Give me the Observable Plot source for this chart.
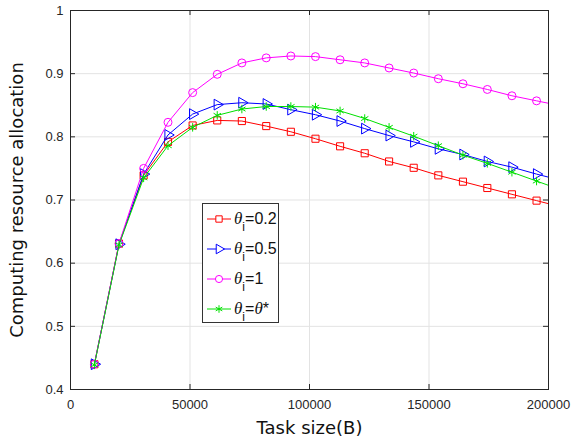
<!DOCTYPE html>
<html>
<head>
<meta charset="utf-8">
<script src="https://cdn.jsdelivr.net/npm/d3@7"></script>
<script src="https://cdn.jsdelivr.net/npm/@observablehq/plot@0.6"></script>
<style>
  body { margin: 0; background: #fff; }
  #wrap { position: relative; width: 573px; height: 445px; }
  #legend { position: absolute; left: 202px; top: 203px; width: 77px; height: 120px;
    border: 1px solid #333; background: #fff; box-sizing: border-box; }
  .item { position: absolute; left: 3px; height: 28px; display: flex; align-items: center; }
  .lab { font-family: "Liberation Sans", Arial, sans-serif; font-size: 16px; color: #111; margin-left: 2px; white-space: nowrap; }
  .th { font-family: "Liberation Serif", "Times New Roman", serif; font-style: italic; font-size: 17px; }
  .sub { font-family: "Liberation Sans", Arial, sans-serif; font-size: 12px; position: relative; top: 7px; }
</style>
</head>
<body>
<div id="wrap"></div>
<script>
const taskSize = [10000, 20300, 30600, 40800, 51100, 61400, 71700, 81900, 92200, 102500, 112800, 123100, 133300, 143600, 153900, 164200, 174400, 184700, 195000, 205300];
const theta02 = [0.440, 0.631, 0.739, 0.792, 0.818, 0.826, 0.825, 0.817, 0.808, 0.797, 0.785, 0.774, 0.761, 0.751, 0.739, 0.729, 0.719, 0.709, 0.699, 0.689];
const theta05 = [0.440, 0.630, 0.741, 0.803, 0.836, 0.851, 0.854, 0.852, 0.843, 0.835, 0.825, 0.813, 0.802, 0.792, 0.781, 0.772, 0.761, 0.752, 0.741, 0.731];
const theta1 = [0.440, 0.631, 0.750, 0.823, 0.870, 0.899, 0.917, 0.925, 0.928, 0.927, 0.922, 0.917, 0.909, 0.901, 0.892, 0.884, 0.875, 0.865, 0.857, 0.849];
const thetaStar = [0.439, 0.629, 0.735, 0.786, 0.815, 0.834, 0.844, 0.848, 0.848, 0.847, 0.841, 0.829, 0.815, 0.801, 0.786, 0.771, 0.758, 0.744, 0.730, 0.716];
const xTicks = [0, 50000, 100000, 150000, 200000];
const yTicks = [0.4, 0.5, 0.6, 0.7, 0.8, 0.9, 1];
const xLabel = "Task size(B)";
const yLabel = "Computing resource allocation";

const series = [
  {name: "0.2", values: theta02, color: "#ff0000", symbol: "square", rotate: 0},
  {name: "0.5", values: theta05, color: "#0000ff", symbol: "triangle", rotate: 90},
  {name: "1", values: theta1, color: "#ff00ff", symbol: "circle", rotate: 0},
  {name: "*", values: thetaStar, color: "#00e000", symbol: "asterisk", rotate: 0}
];

const marks = [];
marks.push(Plot.gridX(xTicks, {stroke: "#e3e3e3", strokeOpacity: 1}));
marks.push(Plot.gridY(yTicks, {stroke: "#e3e3e3", strokeOpacity: 1}));
for (const s of series) {
  const data = taskSize.map((x, i) => ({x, y: s.values[i]}));
  marks.push(Plot.line(data, {x: "x", y: "y", stroke: s.color, strokeWidth: 1, clip: true}));
  marks.push(Plot.dot(data.filter(d => d.x <= 200000), {x: "x", y: "y", stroke: s.color, fill: "none",
    symbol: s.symbol, r: 4, rotate: s.rotate, strokeWidth: 1}));
}
marks.push(Plot.frame({stroke: "#262626", strokeWidth: 1}));
// inward ticks
marks.push(Plot.tickX(xTicks, {x: d => d, insetTop: 374, stroke: "#262626"}));
marks.push(Plot.tickX(xTicks, {x: d => d, insetBottom: 374, stroke: "#262626"}));
marks.push(Plot.tickY(yTicks, {y: d => d, insetRight: 473, stroke: "#262626"}));
marks.push(Plot.tickY(yTicks, {y: d => d, insetLeft: 473, stroke: "#262626"}));
marks.push(Plot.axisX(xTicks, {tickSize: 0, tickPadding: 10, tickFormat: d => String(d), label: null, fontSize: 13, color: "#262626"}));
marks.push(Plot.axisY(yTicks, {tickSize: 0, tickPadding: 7, tickFormat: d => String(d), label: null, fontSize: 13, color: "#262626"}));
marks.push(Plot.text([xLabel], {text: d => d, frameAnchor: "bottom", textAnchor: "middle", dy: 44, fontSize: 18, fill: "#111", fontFamily: "DejaVu Sans"}));
marks.push(Plot.text([yLabel], {text: d => d, frameAnchor: "left", textAnchor: "middle", dx: -53, rotate: -90, fontSize: 18, fill: "#111", fontFamily: "DejaVu Sans"}));

const chart = Plot.plot({
  width: 573, height: 445,
  marginLeft: 70, marginRight: 25, marginTop: 10, marginBottom: 56,
  x: {domain: [0, 200000]},
  y: {domain: [0.4, 1]},
  style: {fontFamily: "'Liberation Sans', Arial, sans-serif", background: "#fff"},
  marks
});
const wrap = document.getElementById("wrap");
wrap.appendChild(chart);

// legend
const legend = document.createElement("div");
legend.id = "legend";
series.forEach((s, i) => {
  const item = document.createElement("div");
  item.className = "item";
  item.style.top = (1 + i * 30) + "px";
  const sw = d3.create("svg").attr("width", 26).attr("height", 16);
  sw.append("line").attr("x1", 1).attr("x2", 25).attr("y1", 8).attr("y2", 8).attr("stroke", s.color);
  const sym = {square: d3.symbolSquare, triangle: d3.symbolTriangle, circle: d3.symbolCircle, asterisk: d3.symbolAsterisk}[s.symbol];
  sw.append("path").attr("d", d3.symbol(sym, 40)()).attr("transform", `translate(13,8) rotate(${s.rotate})`)
    .attr("fill", s.symbol === "asterisk" ? s.color : "#fff").attr("stroke", s.color);
  item.appendChild(sw.node());
  const lab = document.createElement("span");
  lab.className = "lab";
  const rhs = s.name === "*" ? '<span class="th">θ</span>*' : s.name;
  lab.innerHTML = '<span class="th">θ</span><span class="sub">i</span>=' + rhs;
  item.appendChild(lab);
  legend.appendChild(item);
});
wrap.appendChild(legend);
</script>
</body>
</html>
